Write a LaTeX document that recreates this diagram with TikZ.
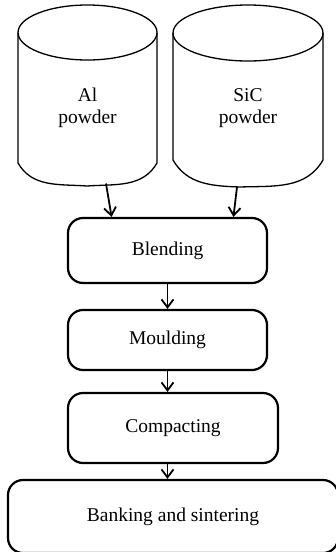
\documentclass[tikz,border=0pt]{standalone}
\usepackage{fontspec}
\setmainfont{Liberation Serif}
\usetikzlibrary{arrows.meta}

\begin{document}
\begin{tikzpicture}[
  x=1pt, y=1pt,
  tank/.style={line width=1.3pt},
  stage/.style={draw, line width=2.2pt, rounded corners=15pt, font=\fontsize{19.5}{21.5}\selectfont},
  flow/.style={line width=1.8pt, -{Straight Barb[length=8pt,width=12pt,line width=1.8pt]}}]
  \useasboundingbox (0,0) rectangle (336,-552);
  \clip (0,0) rectangle (336,-552);
  \draw[tank] (87.5,-32.5) ellipse [x radius=69.5, y radius=27.5];
  \draw[tank] (18,-32.5) -- (18,-163) to[out=-60,in=176] (87,-186)
    to[out=4,in=-120] (157,-163) -- (157,-32.5);
  \coordinate (alout) at (106,-183.5);
  \node[font=\fontsize{19.5}{21.5}\selectfont, align=center] (al) at (87.5,-108) {Al\\powder};
  \draw[tank] (248,-33) ellipse [x radius=75, y radius=28];
  \draw[tank] (173,-33) -- (173,-160) to[out=-60,in=178] (240,-187)
    to[out=2,in=-120] (323,-160) -- (323,-33);
  \coordinate (sicout) at (237,-187);
  \node[font=\fontsize{19.5}{21.5}\selectfont, align=center] (sic) at (248,-108) {SiC\\powder};
  \node[stage, minimum width=199pt, minimum height=65pt] (blend) at (167.5,-250.5) {Blending};
  \node[stage, minimum width=199pt, minimum height=60pt] (mould) at (167.5,-340) {Moulding};
  \node[stage, minimum width=210pt, minimum height=70pt] (comp) at (173,-428) {Compacting};
  \node[stage, minimum width=330pt, minimum height=73pt] (bank) at (173,-516.5) {Banking and sintering};
  \draw[flow] (alout) -- (blend.149);
  \draw[flow] (sicout) -- (blend.27.5);
  \draw[flow] (blend.south) -- (mould.north);
  \draw[flow] (mould.south) -- (mould.south |- comp.north);
  \draw[flow] (mould.south |- comp.south) -- (mould.south |- bank.north);
\end{tikzpicture}
\end{document}
